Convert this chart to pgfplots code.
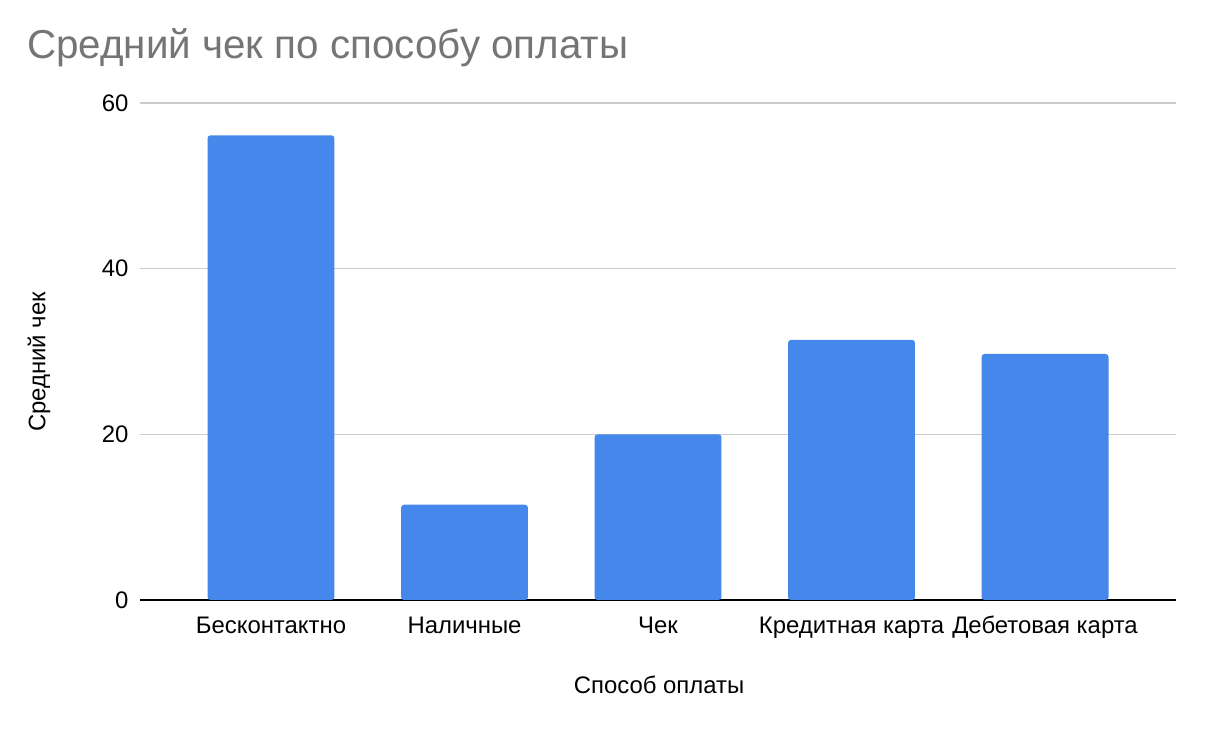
\documentclass[border=0pt]{standalone}
\usepackage{fontspec}
\setmainfont{Liberation Sans}
\usepackage{pgfplots}
\pgfplotsset{compat=1.18}
\definecolor{barblue}{HTML}{4687EC}
\definecolor{titlegray}{HTML}{757575}
\definecolor{gridgray}{HTML}{CCCCCC}
\begin{document}
\begin{tikzpicture}[x=1bp,y=1bp]
\path[use as bounding box,fill=white] (0,0) rectangle (1214,734);
\begin{axis}[
  scale only axis,
  width=1036bp, height=497bp,
  at={(140bp,134bp)}, anchor=south west,
  xmin=-0.677, xmax=4.677,
  ymin=0, ymax=60,
  ytick={0,20,40,60},
  xtick={0,1,2,3,4},
  xticklabels={Бесконтактно,Наличные,Чек,Кредитная карта,Дебетовая карта},
  axis x line*=bottom, axis y line*=left,
  axis line style={-},
  x axis line style={black, line width=2bp},
  y axis line style={draw=none},
  major tick length=0pt,
  ymajorgrids, grid style={gridgray, line width=1.5bp},
  /pgf/number format/assume math mode=true,
  ticklabel style={font=\fontsize{24}{28}\selectfont, black},
  yticklabel style={anchor=east, xshift=-8bp},
  xticklabel style={anchor=base, yshift=-34bp},
  ybar, bar width=0.656, bar shift=0pt,
  xlabel={Способ оплаты}, ylabel={Средний чек},
  label style={font=\fontsize{24}{28}\selectfont},
  xlabel style={at={(axis description cs:0.501,-0.171)}, anchor=center},
  ylabel style={at={(axis description cs:-0.0975,0.479)}, anchor=center},
]
\addplot[fill=barblue, draw=none, rounded corners=3bp] coordinates {
  (0,56.1) (1,11.5) (2,20.0) (3,31.4) (4,29.7)};
\end{axis}
\node[anchor=base west, text=titlegray, font=\fontsize{40.5}{44}\selectfont, inner sep=0pt] at (27,734-59) {Средний чек по способу оплаты};
\end{tikzpicture}
\end{document}
